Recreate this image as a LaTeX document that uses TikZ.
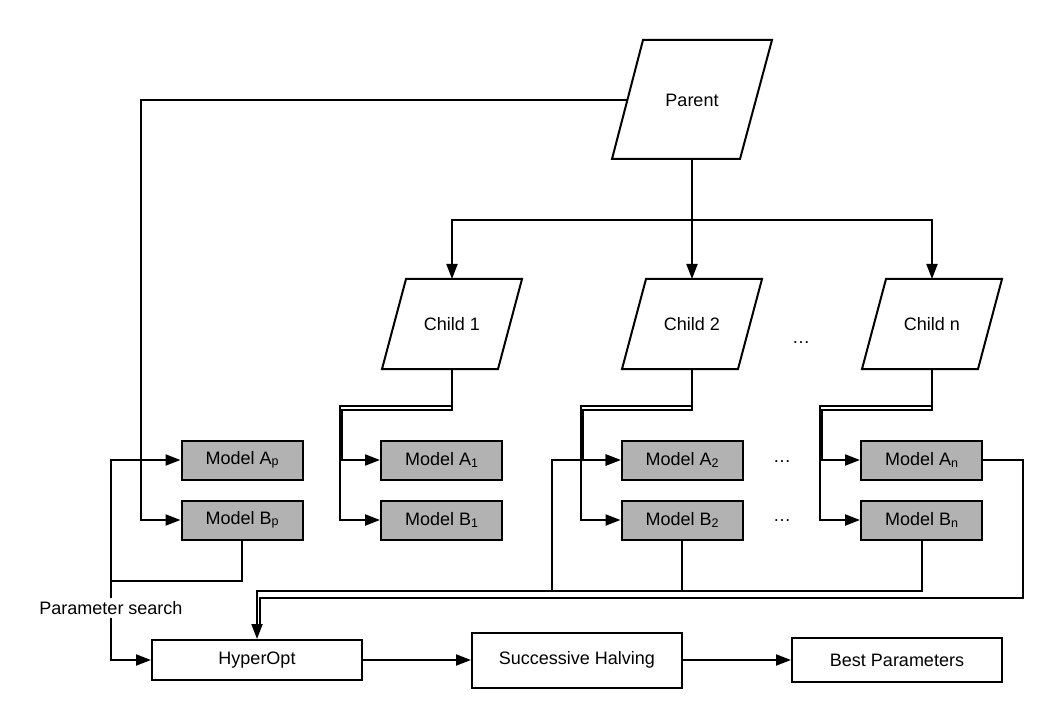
\documentclass[tikz,border=0pt]{standalone}
\usepackage{fontspec}
\setmainfont{Liberation Sans}
\usetikzlibrary{arrows.meta,calc}
\definecolor{modelgray}{RGB}{178,178,178}
\newcommand\mysub[1]{\raisebox{-1.5pt}{\fontsize{12.5}{12.5}\selectfont #1}}
\begin{document}
\begin{tikzpicture}[x=1pt,y=-1pt,
  line width=2pt,
  arr/.style={-{Triangle[length=15pt,width=11pt]}},
  model/.style={draw, fill=modelgray, minimum width=121pt, minimum height=39pt, inner sep=0pt},
  proc/.style={draw, fill=white, minimum width=210pt, inner sep=0pt},
  lbl/.style={inner sep=0pt},
  font=\fontsize{18}{21}\selectfont]
\useasboundingbox (0,0) rectangle (1063,727);

% Parent
\draw (643,40) -- (772,40) -- (740,159) -- (612,159) -- cycle;
\node[lbl] (parent) at (692,100) {Parent};
\coordinate (parentL) at (627,100);
\coordinate (parentS) at (692,159);
\coordinate (pbend) at (141,100);

% Children
\foreach \cx/\nm/\txt in {452/c1/Child 1, 692/c2/Child 2, 932/cn/Child n}{
  \draw (\cx-46,279) -- (\cx+70,279) -- (\cx+46,369) -- (\cx-70,369) -- cycle;
  \node[lbl] (\nm) at (\cx,324) {\txt};
  \coordinate (\nm N) at (\cx,279);
  \coordinate (\nm S) at (\cx,369);
}
\node[lbl] (dotsc) at (801,343) {…};

% Models
\node[model] (Ap) at (242,460) {Model A\mysub{p}};
\node[model] (Bp) at (242,520) {Model B\mysub{p}};
\node[model] (A1) at (441.5,460) {Model A\mysub{1}};
\node[model] (B1) at (441.5,520) {Model B\mysub{1}};
\node[model] (A2) at (682,460) {Model A\mysub{2}};
\node[model] (B2) at (682,520) {Model B\mysub{2}};
\node[model] (An) at (921.5,460) {Model A\mysub{n}};
\node[model] (Bn) at (921.5,520) {Model B\mysub{n}};
\node[lbl] (dotsa) at (782,462) {…};
\node[lbl] (dotsb) at (782,521) {…};

% Bottom process boxes
\node[proc, minimum height=40pt] (HO) at (257,660) {HyperOpt};
\node[proc, minimum height=55pt] (SH) at (577,660) {Successive Halving};
\node[proc, minimum height=44pt] (BP) at (897,660) {Best Parameters};

% Parent connectors
\draw[arr] (parentL) -- (pbend) |- (Bp.west);
\draw[arr] (parentS) -- (c2N);
\draw[arr] ($(parentS)+(0,61)$) -| (c1N);
\draw[arr] ($(parentS)+(0,61)$) -| (cnN);

% Child connectors (two overlapping routes each)
\draw[arr] (c1S) |- ($(A1.west)+(-38,-50)$) |- (A1.west);
\draw[arr] (c1S) |- ($(A1.west)+(-40,-54)$) |- (B1.west);
\draw[arr] (c2S) |- ($(A2.west)+(-38,-50)$) |- (A2.west);
\draw[arr] (c2S) |- ($(A2.west)+(-40,-54)$) |- (B2.west);
\draw[arr] (cnS) |- ($(An.west)+(-38,-50)$) |- (An.west);
\draw[arr] (cnS) |- ($(An.west)+(-40,-54)$) |- (Bn.west);

% Left loop (parameter search)
\coordinate (lp) at (111,581);
\draw (Bp.south) |- (lp);
\draw[arr] (lp) |- (Ap.west);
\draw[arr] (lp) |- (HO.west);
\node[lbl, fill=white, inner ysep=3pt] (ps) at (111,608) {Parameter search};

% Right loops to HyperOpt
\coordinate (a2l) at (552,590);
\draw[arr] (a2l) |- (A2.west);
\draw (B2.south) -- ($(B2.south)+(0,50)$);
\draw[arr] (Bn.south) -- ($(Bn.south)+(0,50)$) -| (HO.north);
\draw (An.east) -- ++(40,0) |- ($(HO.north)+(2.5,-41)$) -- ($(HO.north)+(2.5,-12)$);

% Pipeline
\draw[arr] (HO.east) -- (SH.west);
\draw[arr] (SH.east) -- (BP.west);
\end{tikzpicture}
\end{document}
